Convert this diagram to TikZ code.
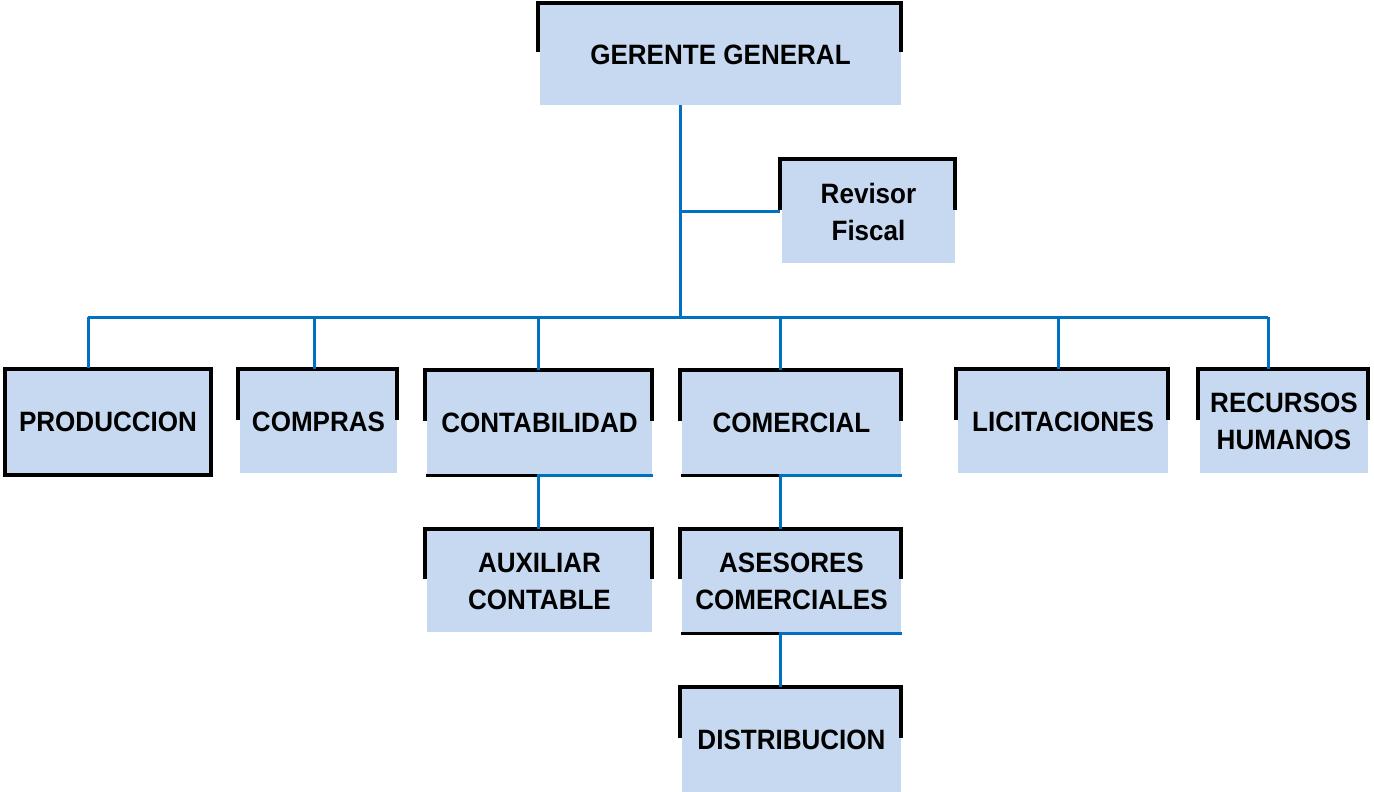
\documentclass[tikz,border=0pt]{standalone}
\usepackage{fontspec}
\setmainfont{Liberation Sans}[FakeStretch=0.93]
\usetikzlibrary{calc}
\definecolor{boxfill}{HTML}{C6D9F0}
\definecolor{linkblue}{HTML}{0070C0}
\begin{document}
\begin{tikzpicture}[x=1pt,y=-1pt,
  box/.style={fill=boxfill, inner sep=0pt, align=center,
    font=\fontsize{28}{37}\selectfont\bfseries},
  brk/.style={draw=black, line width=4pt, line join=miter},
  link/.style={draw=linkblue, line width=3pt},
  base/.style={draw=black, line width=3pt}]
\useasboundingbox (0,0) rectangle (1374,792);

% boxes
\node[box, minimum width=361pt, minimum height=101pt] (G) at (720.5,54.5) {GERENTE GENERAL};
\node[box, minimum width=173pt, minimum height=103pt] (R) at (868.5,211.5) {Revisor\\Fiscal};
\node[box, minimum width=206pt, minimum height=106pt] (P) at (108,422) {PRODUCCION};
\node[box, minimum width=157pt, minimum height=103pt] (CP) at (318.5,421.5) {COMPRAS};
\node[box, minimum width=225pt, minimum height=103pt] (CT) at (539.5,422.5) {CONTABILIDAD};
\node[box, minimum width=219pt, minimum height=103pt] (CM) at (791.5,422.5) {COMERCIAL};
\node[box, minimum width=210pt, minimum height=103pt] (L) at (1063,421.5) {LICITACIONES};
\node[box, minimum width=168pt, minimum height=103pt] (RH) at (1284,421.5) {RECURSOS\\HUMANOS};
\node[box, minimum width=225pt, minimum height=102pt] (A) at (539.5,581) {AUXILIAR\\CONTABLE};
\node[box, minimum width=219pt, minimum height=102pt] (AS) at (791.5,581) {ASESORES\\COMERCIALES};
\node[box, minimum width=219pt, minimum height=104pt] (D) at (791.5,740) {DISTRIBUCION};

% brackets
\foreach \n in {G,R,CP,CT,CM,L,RH,A,AS,D}{
  \draw[brk] ($(\n.west)+(-2,-2)$) |- ($(\n.north)+(0,-1)$) -| ($(\n.east)+(0,-2)$);
}
\draw[draw=black, line width=4pt] (P.north west) rectangle (P.south east);

% connectors
\coordinate (bus) at (680,317);
\coordinate (dP) at (88,317);
\coordinate (dCP) at (314,317);
\coordinate (dCT) at (538,317);
\coordinate (dCM) at (780,317);
\coordinate (dL) at (1058,317);
\coordinate (dRH) at (1268,317);

\draw[link] (G.south -| bus) -- (bus);
\draw[link] (R.west -| bus) -- ($(R.west)+(-2,0)$);
\draw[link] (dP) -- (dRH);
\foreach \d/\n in {dP/P,dCP/CP,dCT/CT,dCM/CM,dL/L,dRH/RH}{
  \draw[link] (\d) -- ($(\d |- \n.north)+(0,-1)$);
}

% sub connectors
\coordinate (sCT) at ($(CT.south -| dCT)+(0,1)$);
\draw[base] ($(CT.south west)+(-1,1)$) -- (sCT);
\draw[link] ($(CT.south east)+(1,1)$) -- (sCT) -- ($(A.north -| dCT)+(0,-1)$);

\coordinate (sCM) at ($(CM.south -| dCM)+(0,1)$);
\draw[base] ($(CM.south west)+(-1,1)$) -- (sCM);
\draw[link] ($(CM.south east)+(1,1)$) -- (sCM) -- ($(AS.north -| dCM)+(0,-1)$);

\coordinate (sAS) at ($(AS.south -| dCM)+(0,1)$);
\draw[base] ($(AS.south west)+(-1,1)$) -- (sAS);
\draw[link] ($(AS.south east)+(1,1)$) -- (sAS) -- ($(D.north -| dCM)+(0,-1)$);
\end{tikzpicture}
\end{document}
